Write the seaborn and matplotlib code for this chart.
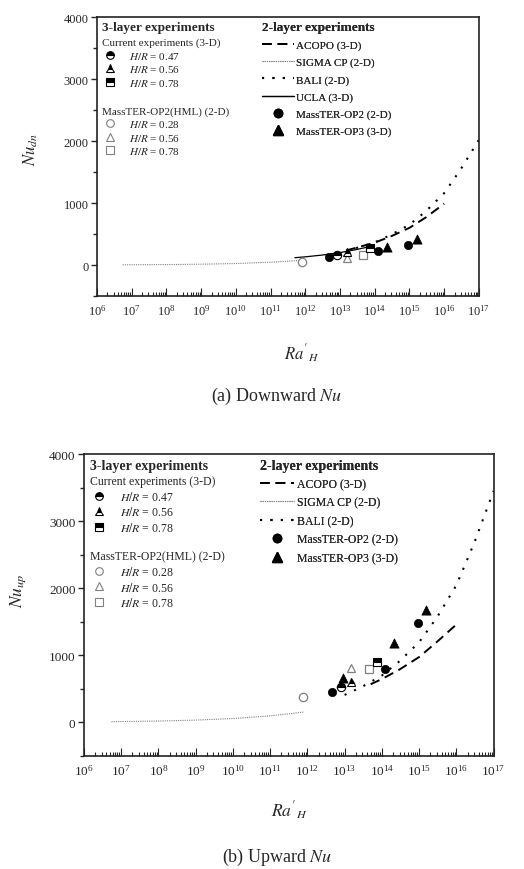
import numpy as np
import pandas as pd
import seaborn as sns
import matplotlib.pyplot as plt
from matplotlib.lines import Line2D
from matplotlib.ticker import LogLocator, MultipleLocator, NullFormatter

sns.set_style('white')
plt.rcParams['font.family'] = ['Liberation Serif', 'DejaVu Serif']
plt.rcParams['mathtext.fontset'] = 'stix'

# ---------------- (a) downward Nu ----------------
dn_sigma_ra = [5.5e6, 1e7, 1e8, 1e9, 1e10, 1e11, 4e11, 1e12]
dn_sigma_nu = [3, 4, 7, 13, 24, 45, 65, 80]
dn_ucla_ra = [5e11, 1e12, 3e12, 1e13, 3e13, 7e13]
dn_ucla_nu = [118, 132, 160, 200, 250, 295]
dn_acopo_ra = [1.5e13, 3e13, 1e14, 3e14, 1e15, 3e15, 1e16]
dn_acopo_nu = [235, 280, 361, 465, 600, 770, 990]
dn_bali_ra = [1.5e13, 3e13, 1e14, 3e14, 1e15, 3e15, 1e16, 3e16, 1e17]
dn_bali_nu = [225, 275, 365, 490, 650, 870, 1160, 1545, 2020]

dn_op2_ra = [4.9e12, 1.2e14, 9.1e14]
dn_op2_nu = [124, 221, 327]
dn_op3_ra = [2.2e14, 1.6e15]
dn_op3_nu = [285, 419]
dn_cur_ra = [8.3e12, 1.55e13, 7.2e13]      # H/R = 0.47, 0.56, 0.78
dn_cur_nu = [166, 205, 274]
dn_hml_ra = [7.8e11, 1.55e13, 4.7e13]      # H/R = 0.28, 0.56, 0.78
dn_hml_nu = [43, 108, 161]

# ---------------- (b) upward Nu ----------------
up_sigma_ra = [5.5e6, 1e7, 1e8, 1e9, 1e10, 1e11, 4e11, 8e11]
up_sigma_nu = [11, 13, 21, 35, 58, 98, 135, 155]
up_acopo_ra = [5e13, 1e14, 3e14, 1e15, 3e15, 1e16]
up_acopo_nu = [570, 646, 790, 975, 1200, 1460]
up_bali_ra = [1e13, 3e13, 1e14, 3e14, 1e15, 3e15, 1e16, 3e16, 1e17]
up_bali_nu = [410, 534, 699, 914, 1196, 1563, 2045, 2673, 3450]

up_op2_ra = [4.5e12, 1.2e14, 9.3e14]
up_op2_nu = [458, 791, 1488]
up_op3_ra = [9.1e12, 2.1e14, 1.5e15]
up_op3_nu = [667, 1189, 1676]
up_cur_ra = [8.1e12, 1.5e13, 7.4e13]       # H/R = 0.47, 0.56, 0.78
up_cur_nu = [532, 607, 900]
up_hml_ra = [7.6e11, 1.45e13, 4.6e13]      # H/R = 0.28, 0.56, 0.78
up_hml_nu = [378, 816, 801]

hr_cur = ['0.47', '0.56', '0.78']
hr_hml = ['0.28', '0.56', '0.78']
shapes = ['o', '^', 's']
grey = '#808080'

st_acopo = dict(color='k', lw=1.4, linestyle=(0, (5, 3)))
st_sigma = dict(color=grey, lw=0.8, linestyle=(0, (1, 1)))
st_bali = dict(color='k', lw=1.5, linestyle=(0, (1, 4)))
st_ucla = dict(color='k', lw=0.9, linestyle='-')

fig = plt.figure(figsize=(5.24, 8.70), dpi=100)


def draw(ax, d, fs, tfs, ylab, ylab_xy, xlab_xy, leg):
    ax.set_xscale('log')
    sns.lineplot(x=d['sigma'][0], y=d['sigma'][1], ax=ax, **st_sigma)
    if 'ucla' in d:
        sns.lineplot(x=d['ucla'][0], y=d['ucla'][1], ax=ax, **st_ucla)
    sns.lineplot(x=d['acopo'][0], y=d['acopo'][1], ax=ax, **st_acopo)
    sns.lineplot(x=d['bali'][0], y=d['bali'][1], ax=ax, **st_bali)
    ms = 36
    sns.scatterplot(x=d['op2'][0], y=d['op2'][1], ax=ax, marker='o', s=ms,
                    color='k', edgecolor='k', zorder=5)
    sns.scatterplot(x=d['op3'][0], y=d['op3'][1], ax=ax, marker='^', s=ms + 8,
                    color='k', edgecolor='k', zorder=5)
    for ra, nu, m in zip(d['hml'][0], d['hml'][1], shapes):
        ax.plot(ra, nu, m, ms=6, mfc='white', mec=grey, mew=0.9, zorder=4)
    for ra, nu, m in zip(d['cur'][0], d['cur'][1], shapes):
        ax.plot(ra, nu, m, ms=6, fillstyle='top', mfc='k', mfcalt='white',
                mec='k', mew=0.8, zorder=6)

    ax.set_xlim(1e6, 1e17)
    ax.set_ylim(-500, 4000)
    ax.yaxis.set_major_locator(MultipleLocator(1000))
    ax.yaxis.set_minor_locator(MultipleLocator(500))
    ax.xaxis.set_major_locator(LogLocator(base=10, numticks=20))
    ax.xaxis.set_minor_locator(LogLocator(base=10, subs=np.arange(2, 10), numticks=200))
    ax.xaxis.set_minor_formatter(NullFormatter())
    ax.tick_params(axis='y', which='both', direction='out', left=True, right=False,
                   labelsize=tfs, width=1, length=4, pad=2)
    ax.tick_params(axis='y', which='minor', length=3)
    ax.tick_params(axis='x', which='both', direction='in', bottom=True, top=False,
                   labelsize=tfs, width=0.8, pad=5)
    ax.tick_params(axis='x', which='major', length=6)
    ax.tick_params(axis='x', which='minor', length=3)
    for s in ax.spines.values():
        s.set_linewidth(1.2)
        s.set_color('#222222')

    ax.set_ylabel(ylab, fontsize=fs + 4)
    ax.yaxis.set_label_coords(*ylab_xy)
    ax.set_xlabel(r"$Ra'_{H}$", fontsize=fs + 4)
    ax.xaxis.set_label_coords(*xlab_xy)

    # legend blocks
    ax.text(leg['x0'], leg['yt'], '3-layer experiments', transform=ax.transAxes,
            fontsize=fs + 1.5, fontweight='bold', va='top', ha='left')
    h_cur = [Line2D([], [], ls='none', marker=m, ms=5.5, fillstyle='top', mfc='k',
                    mfcalt='white', mec='k', mew=0.8) for m in shapes]
    h_hml = [Line2D([], [], ls='none', marker=m, ms=5.5, mfc='white', mec=grey,
                    mew=0.8) for m in shapes]
    common = dict(frameon=False, fontsize=fs, alignment='left', borderpad=0,
                  borderaxespad=0, handlelength=1.6, handletextpad=0.9,
                  labelspacing=leg['ls1'], loc='upper left')
    l1 = ax.legend(h_cur, [f'$H/R$ = {v}' for v in hr_cur],
                   title='Current experiments (3-D)', title_fontsize=fs,
                   bbox_to_anchor=(leg['x0'], leg['y1']), **common)
    ax.add_artist(l1)
    l2 = ax.legend(h_hml, [f'$H/R$ = {v}' for v in hr_hml],
                   title='MassTER-OP2(HML) (2-D)', title_fontsize=fs,
                   bbox_to_anchor=(leg['x0'], leg['y2']), **common)
    ax.add_artist(l2)

    h2 = [Line2D([], [], **st_acopo), Line2D([], [], **st_sigma),
          Line2D([], [], **st_bali)]
    lab2 = ['ACOPO (3-D)', 'SIGMA CP (2-D)', 'BALI (2-D)']
    if 'ucla' in d:
        h2.append(Line2D([], [], **st_ucla))
        lab2.append('UCLA (3-D)')
    h2 += [Line2D([], [], ls='none', marker='o', ms=6, color='k'),
           Line2D([], [], ls='none', marker='^', ms=6.5, color='k')]
    lab2 += ['MassTER-OP2 (2-D)', 'MassTER-OP3 (3-D)']
    l3 = ax.legend(h2, lab2, title='2-layer experiments',
                   title_fontproperties={'weight': 'bold', 'size': fs + 1.5},
                   frameon=False, fontsize=fs, alignment='left', borderpad=0,
                   borderaxespad=0, handlelength=2.9, handletextpad=0.2,
                   labelspacing=leg['ls2'], loc='upper left',
                   bbox_to_anchor=(leg['x2'], leg['yt']))
    ax.add_artist(l3)


ax1 = fig.add_axes([0.185, 0.6586, 0.729, 0.3207])
draw(ax1,
     dict(sigma=(dn_sigma_ra, dn_sigma_nu), ucla=(dn_ucla_ra, dn_ucla_nu),
          acopo=(dn_acopo_ra, dn_acopo_nu), bali=(dn_bali_ra, dn_bali_nu),
          op2=(dn_op2_ra, dn_op2_nu), op3=(dn_op3_ra, dn_op3_nu),
          cur=(dn_cur_ra, dn_cur_nu), hml=(dn_hml_ra, dn_hml_nu)),
     8, 9, r'$Nu_{dn}$', (-0.15, 0.53), (0.537, -0.165),
     dict(x0=0.012, yt=0.985, y1=0.926, y2=0.68, x2=0.432, ls1=0.22, ls2=0.64))

ax2 = fig.add_axes([0.160, 0.1299, 0.782, 0.347])
draw(ax2,
     dict(sigma=(up_sigma_ra, up_sigma_nu),
          acopo=(up_acopo_ra, up_acopo_nu), bali=(up_bali_ra, up_bali_nu),
          op2=(up_op2_ra, up_op2_nu), op3=(up_op3_ra, up_op3_nu),
          cur=(up_cur_ra, up_cur_nu), hml=(up_hml_ra, up_hml_nu)),
     8.5, 9.5, r'$Nu_{up}$', (-0.137, 0.55), (0.502, -0.14),
     dict(x0=0.015, yt=0.985, y1=0.93, y2=0.681, x2=0.43, ls1=0.22, ls2=0.55))

fig.text(0.529, 0.544, r'(a) Downward $Nu$', ha='center', va='center', fontsize=13)
fig.text(0.529, 0.014, r'(b) Upward $Nu$', ha='center', va='center', fontsize=13)

fig.savefig('out.png', dpi=100)
